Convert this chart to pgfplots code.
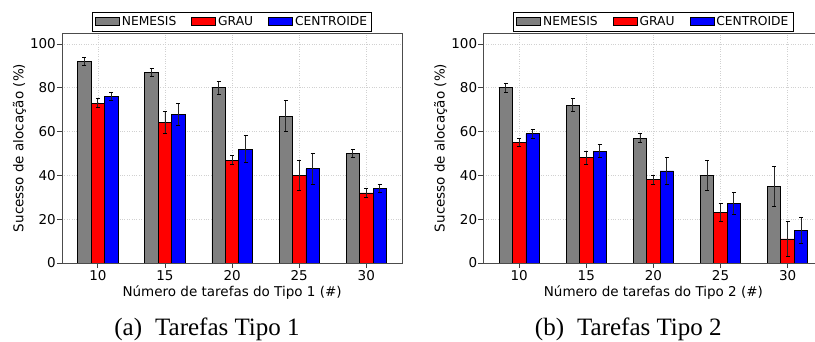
\documentclass[border=0pt]{standalone}
\usepackage{fontspec}
\setmainfont{DejaVu Sans}
\newfontfamily\capfont{Liberation Serif}
\usepackage{pgfplots}
\usepackage{pgfplotstable}
\pgfplotsset{compat=1.18}

\definecolor{mgray}{HTML}{808080}

\pgfplotstableread{
x y e
0 92 2
1 87 2
2 80 3
3 67 7
4 50 2
}\nemA
\pgfplotstableread{
x y e
0 73 2
1 64 5
2 47 2
3 40 7
4 32 2
}\grauA
\pgfplotstableread{
x y e
0 76 2
1 68 5
2 52 6
3 43 7
4 34 2
}\centA
\pgfplotstableread{
x y e
0 80 2
1 72 3
2 57 2
3 40 7
4 35 9
}\nemB
\pgfplotstableread{
x y e
0 55 2
1 48 3
2 38 2
3 23 4
4 11 8
}\grauB
\pgfplotstableread{
x y e
0 59 2
1 51 3
2 42 6
3 27 5
4 15 6
}\centB

\pgfplotsset{
  mystyle/.style={
    scale only axis,
    width=340.2pt, height=230pt,
    xmin=-0.535, xmax=4.535,
    ymin=0, ymax=105,
    xtick={0,1,2,3,4},
    xticklabels={10,15,20,25,30},
    ytick={0,20,40,60,80,100},
    xtick pos=left, ytick pos=left,
    tick align=outside,
    major tick length=5pt,
    tick style={black!75, line width=0.8pt},
    axis line style={black!70, line width=0.9pt},
    grid=major,
    major grid style={dotted, black!18, line width=0.6pt},
    /pgf/number format/assume math mode=true,
    tick label style={font=\fontsize{13.5}{15}\selectfont},
    xticklabel style={inner ysep=2pt},
    yticklabel style={inner xsep=1pt},
    label style={font=\fontsize{13.5}{15}\selectfont},
    ylabel={Sucesso de alocação (\%)},
    ylabel style={at={(axis description cs:-0.1138,0.5)}, anchor=base, rotate=0},
    xlabel style={at={(axis description cs:0.5,0)}, anchor=base, yshift=-33.7pt},
    ybar, bar width=0.2,
    legend image code/.code={\draw[##1] (0pt,-4pt) rectangle (24pt,4pt);},
    legend columns=3,
    legend style={at={(0.5,1)}, anchor=south, yshift=1pt,
      draw=black, line width=0.8pt, fill=white,
      font=\fontsize{12.3}{14}\selectfont,
      inner xsep=2.5pt, inner ysep=2.5pt,
      nodes={inner sep=2pt, text depth=0.15em},
      column sep=0pt,
      /tikz/every even column/.append style={column sep=13pt}},
    error bars/y dir=both, error bars/y explicit,
    error bars/error mark=-,
    error bars/error mark options={black, line width=0.9pt, mark size=2pt, rotate=90},
    error bars/error bar style={black!85, line width=0.9pt},
  }
}

\begin{document}
\begin{tikzpicture}
\useasboundingbox (0pt,0pt) rectangle (815pt,342pt);

\begin{axis}[mystyle, at={(62pt,79pt)}, anchor=south west,
  xlabel={Número de tarefas do Tipo 1 (\#)}]
\addplot[fill=mgray, draw=black, line width=0.8pt, bar shift=-0.2]
  table[x=x, y=y, y error=e] {\nemA};
\addplot[fill=red, draw=black, line width=0.8pt, bar shift=0]
  table[x=x, y=y, y error=e] {\grauA};
\addplot[fill=blue, draw=black, line width=0.8pt, bar shift=0.2]
  table[x=x, y=y, y error=e] {\centA};
\legend{NEMESIS,GRAU,CENTROIDE}
\end{axis}

\begin{axis}[mystyle, at={(483.3pt,79pt)}, anchor=south west,
  xlabel={Número de tarefas do Tipo 2 (\#)}]
\addplot[fill=mgray, draw=black, line width=0.8pt, bar shift=-0.2]
  table[x=x, y=y, y error=e] {\nemB};
\addplot[fill=red, draw=black, line width=0.8pt, bar shift=0]
  table[x=x, y=y, y error=e] {\grauB};
\addplot[fill=blue, draw=black, line width=0.8pt, bar shift=0.2]
  table[x=x, y=y, y error=e] {\centB};
\legend{NEMESIS,GRAU,CENTROIDE}
\end{axis}

\node[anchor=base, inner sep=0pt, font=\capfont\fontsize{25}{28}\selectfont] at (207pt,6pt) {(a)\hspace{13pt}Tarefas Tipo 1};
\node[anchor=base, inner sep=0pt, font=\capfont\fontsize{25}{28}\selectfont] at (628.3pt,6pt) {(b)\hspace{13pt}Tarefas Tipo 2};
\end{tikzpicture}
\end{document}
